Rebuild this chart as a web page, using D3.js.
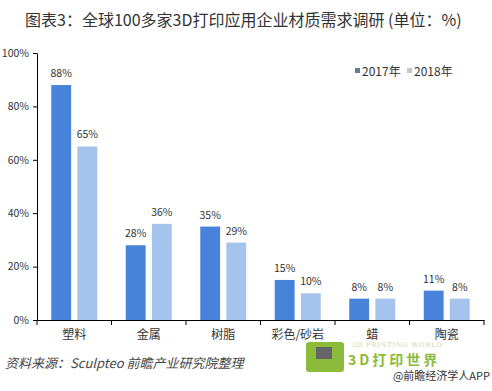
<!DOCTYPE html>
<html><head><meta charset="utf-8">
<script src="https://cdn.jsdelivr.net/npm/d3@7"></script>
<style>body{margin:0;background:#fff;}svg{display:block;}</style>
</head><body>
<script>
const categories = ["塑料","金属","树脂","彩色/砂岩","蜡","陶瓷"];
const series = ["2017年","2018年"];
const values2017 = [88,28,35,15,8,11];
const values2018 = [65,36,29,10,8,8];
const yTicks = [0,20,40,60,80,100];
const title = "图表3：全球100多家3D打印应用企业材质需求调研 (单位：%)";
const source = "资料来源：Sculpteo 前瞻产业研究院整理";

const W=492,H=391;
const svg=d3.select("body").append("svg").attr("width",W).attr("height",H);
const font="'Noto Sans CJK SC','Noto Sans',sans-serif";
svg.append("text").attr("x",25).attr("y",26).attr("font-family",font).attr("font-size",16)
  .attr("fill","#333").text(title);

const x0=d3.scaleBand().domain(categories).range([37,484]).paddingInner(0).paddingOuter(0);
const x1=d3.scaleBand().domain(series).range([x0.bandwidth()/2-23,x0.bandwidth()/2+23]).paddingInner(0.24);
const y=d3.scaleLinear().domain([0,100]).range([320,53]);
const colors=["#4784d9","#a5c3ec"];
const legendColors=["#5d7c9e","#c3c6ca"];

const yAxis=svg.append("g").attr("transform","translate(37,0)")
  .call(d3.axisLeft(y).tickValues(yTicks).tickFormat(d=>d+"%").tickSize(4).tickSizeOuter(0));
yAxis.select(".domain").attr("stroke","#000");
yAxis.selectAll("line").attr("stroke","#000");
yAxis.selectAll("text").attr("font-family",font).attr("font-size",10.5).attr("fill","#333").attr("dx",-1);

const data=[values2017,values2018];
const g=svg.append("g");
categories.forEach((c,i)=>{
  series.forEach((s,j)=>{
    const v=data[j][i];
    const bx=x0(c)+x1(s);
    g.append("rect").attr("x",bx).attr("y",y(v)).attr("width",x1.bandwidth())
      .attr("height",y(0)-y(v)).attr("fill",colors[j]);
    g.append("text").attr("x",bx+x1.bandwidth()/2).attr("y",y(v)-8)
      .attr("text-anchor","middle").attr("font-family",font).attr("font-size",10.5)
      .attr("fill","#333").text(v+"%");
  });
});

const xAxis=svg.append("g").attr("transform","translate(0,320)")
  .call(d3.axisBottom(x0).tickSize(0).tickSizeOuter(0));
xAxis.select(".domain").attr("stroke","#000");
xAxis.selectAll("text").attr("font-family",font).attr("font-size",12).attr("fill","#333").attr("dy","1.3em");
const bounds=categories.map(c=>x0(c)).concat([x0.range()[1]]);
svg.append("g").selectAll("line").data(bounds).join("line")
  .attr("x1",d=>d).attr("x2",d=>d).attr("y1",320).attr("y2",325).attr("stroke","#000");

// legend
const leg=svg.append("g");
const legX=[355,407];
series.forEach((s,j)=>{
  leg.append("rect").attr("x",legX[j]).attr("y",68).attr("width",5).attr("height",5).attr("fill",legendColors[j]);
  leg.append("text").attr("x",legX[j]+7).attr("y",76).attr("font-family",font).attr("font-size",12)
    .attr("fill","#333").text(s);
});

// source
svg.append("text").attr("x",5).attr("y",368).attr("font-family",font).attr("font-size",13)
  .attr("font-style","italic").attr("fill","#444").text(source);

// logo watermark
svg.append("text").attr("x",352).attr("y",347).attr("font-family","'DejaVu Serif',serif").attr("font-size",6.5)
  .attr("fill","#c8d8a8").attr("letter-spacing",0.9).text("3D PRINTING WORLD");
svg.append("rect").attr("x",306).attr("y",342).attr("width",38).attr("height",30).attr("fill","#8cbb3c").attr("rx",3);
svg.append("rect").attr("x",316).attr("y",347).attr("width",16).attr("height",12).attr("fill","#666");
svg.append("text").attr("x",348).attr("y",365).attr("font-family",font).attr("font-size",14).attr("font-weight","bold")
  .attr("fill","#8cbb3c").attr("letter-spacing",3).text("3D打印世界");
svg.append("text").attr("x",490).attr("y",380).attr("text-anchor","end").attr("font-family",font).attr("font-size",11)
  .attr("fill","#333").text("@前瞻经济学人APP");
</script>
</body></html>
